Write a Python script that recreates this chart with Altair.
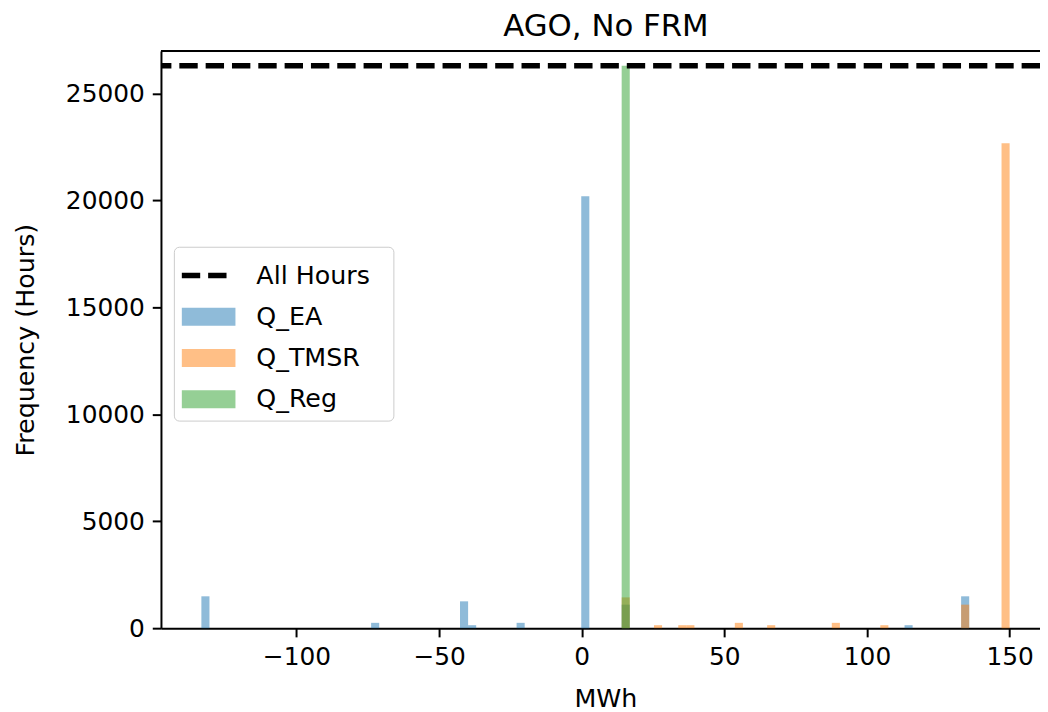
import altair as alt
import pandas as pd

# ---- data (shared histogram bins) ----
BIN_LO = -133.33
BIN_HI = 150.0
N_BINS = 100

ea_bins = [0, 21, 32, 33, 39, 47, 52, 87, 94]
ea_counts = [1490, 250, 1255, 140, 250, 20200, 1100, 140, 1490]
tmsr_bins = [52, 56, 59, 60, 66, 70, 78, 84, 94, 99]
tmsr_counts = [1440, 140, 140, 140, 250, 140, 250, 140, 1100, 22680]
reg_bins = [52]
reg_counts = [26304]
all_hours = [26304]

series_names = ["Q_EA", "Q_TMSR", "Q_Reg"]
series_colors = ["#1f77b4", "#ff7f0e", "#2ca02c"]
legend_names = ["All Hours", "Q_EA", "Q_TMSR", "Q_Reg"]
legend_colors = ["#000000", "#8fbbd9", "#ffbf86", "#95cf95"]

title_text = ["AGO, No FRM"]
x_ticks = [-100, -50, 0, 50, 100, 150]
y_ticks = [0, 5000, 10000, 15000, 20000, 25000]
x_limits = [-147.5, 160.65]
y_limits = [0, 26986]

W = (BIN_HI - BIN_LO) / N_BINS


def hist_frame(bins, counts):
    lo = [BIN_LO + b * W for b in bins]
    return pd.DataFrame({"lo": lo, "hi": [v + W for v in lo], "count": counts})


frames = [hist_frame(ea_bins, ea_counts), hist_frame(tmsr_bins, tmsr_counts),
          hist_frame(reg_bins, reg_counts)]

FONT = "DejaVu Sans"
xscale = alt.Scale(domain=x_limits, zero=False, nice=False)
yscale = alt.Scale(domain=y_limits, zero=False, nice=False)

xaxis = alt.Axis(values=x_ticks, grid=False, tickSize=8.75, tickWidth=2, tickColor="black",
                 domainColor="black", domainWidth=2, labelFontSize=25, labelColor="black",
                 labelFont=FONT, labelPadding=8, labelFlush=False, labelOverlap=False,
                 titleFontSize=25.5, titleFont=FONT, titleFontWeight="normal", titleColor="black",
                 titleX=447.5, titleY=79, titleBaseline="alphabetic", titleAlign="center")
yaxis = alt.Axis(values=y_ticks, format="d", grid=False, tickSize=8.75, tickWidth=2,
                 tickColor="black", domainColor="black", domainWidth=2, labelFontSize=25,
                 labelColor="black", labelFont=FONT, labelPadding=8, labelFlush=False,
                 labelOverlap=False, titleFontSize=25.5, titleFont=FONT, titleFontWeight="normal",
                 titleColor="black", titleX=-128, titleY=290.5, titleBaseline="alphabetic",
                 titleAlign="center")

layers = []
for i, (df, col) in enumerate(zip(frames, series_colors)):
    layers.append(
        alt.Chart(df).mark_rect(opacity=0.5, color=col).encode(
            x=alt.X("lo:Q", scale=xscale, axis=xaxis if i == 0 else alt.Axis(), title="MWh"),
            x2="hi:Q",
            y=alt.Y("count:Q", scale=yscale, axis=yaxis if i == 0 else alt.Axis(),
                    title="Frequency (Hours)"),
            y2=alt.datum(0),
        )
    )

line = alt.Chart(pd.DataFrame({"v": all_hours})).mark_rule(
    color="black", strokeWidth=5.5, strokeDash=[18.5, 8]
).encode(y=alt.Y("v:Q", scale=yscale))

top_frame = alt.Chart(pd.DataFrame({"v": [0]})).mark_rule(
    color="black", strokeWidth=2
).encode(y=alt.value(0))

title_layer = alt.Chart(pd.DataFrame({"t": title_text})).mark_text(
    font=FONT, fontSize=31, color="black", align="center", baseline="alphabetic"
).encode(text="t:N", x=alt.value(448), y=alt.value(-15))

dash_path = "M-1,-0.13H-0.119V0.13H-1Z M0.262,-0.13H1.143V0.13H0.262Z"
rect_path = "M-1,-0.4286H1.571V0.4286H-1Z"
legend_shapes = [dash_path, rect_path, rect_path, rect_path]

NBSP = "\u00a0"
leg = alt.Legend(orient="none", legendX=13, legendY=197, symbolSize=1764,
                 symbolStrokeWidth=0, rowPadding=6.5, labelOffset=33, labelFontSize=25.5,
                 labelFont=FONT, labelColor="black", padding=8, strokeColor="#cccccc",
                 fillColor="rgba(255,255,255,0.8)", cornerRadius=5,
                 titleOrient="right", titlePadding=16, titleFontSize=25, titleFont=FONT)

legend_layer = alt.Chart(pd.DataFrame({"series": legend_names})).mark_point(
    filled=True, opacity=1
).encode(
    color=alt.Color("series:N", scale=alt.Scale(domain=legend_names, range=legend_colors),
                    legend=leg, title=NBSP),
    shape=alt.Shape("series:N", scale=alt.Scale(domain=legend_names, range=legend_shapes),
                    legend=leg, title=NBSP),
).transform_filter("false")

chart = alt.layer(*layers, line, top_frame, title_layer, legend_layer).properties(
    width=885,
    height=581,
    autosize=alt.AutoSizeParams(type="none"),
    padding={"left": 154, "top": 41, "right": 0, "bottom": 82},
).configure_view(stroke=None).configure(font=FONT, background="white")

chart.save("out.html", embed_options={"renderer": "svg", "actions": False})
